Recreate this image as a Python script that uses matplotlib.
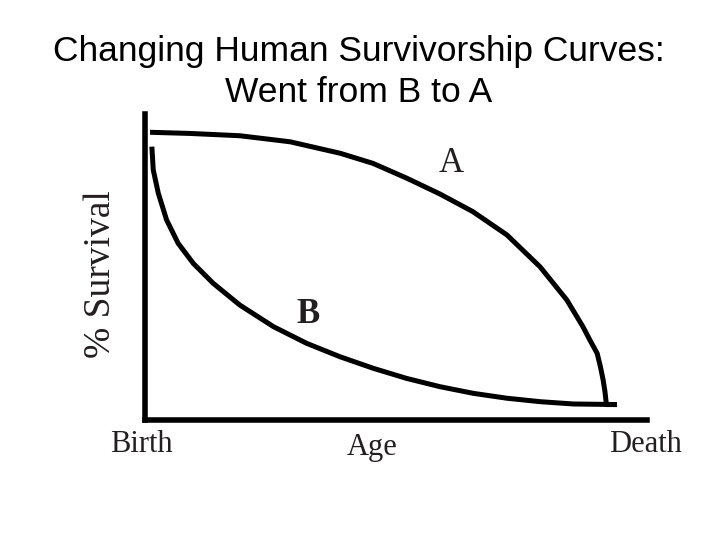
import matplotlib.pyplot as plt

# curve A: modern (type I) survivorship, age in % of lifespan, survival in %
age_a = [1.2, 9.9, 20.7, 31.6, 42.5, 49.6, 57.0, 64.2, 71.3, 78.7, 85.9, 91.7,
         95.2, 96.7, 98.3, 99.0, 99.6, 100.0, 100.3, 102.6]
surv_a = [99.9, 99.5, 98.7, 96.6, 92.6, 89.1, 83.9, 78.4, 72.3, 64.2, 53.1, 41.6,
          32.3, 27.7, 23.0, 18.4, 13.7, 9.6, 5.2, 5.2]

# curve B: earlier (type III-like) survivorship
age_b = [1.6, 1.9, 3.0, 4.8, 7.3, 10.6, 14.9, 20.7, 28.0, 35.2, 42.5, 49.7,
         56.9, 64.2, 71.4, 78.7, 85.9, 93.1, 102.6]
surv_b = [94.9, 86.8, 78.7, 69.4, 61.3, 54.3, 47.4, 39.8, 32.3, 26.5, 21.8, 17.8,
          14.3, 11.4, 9.1, 7.4, 6.2, 5.4, 5.2]

serif = ['Liberation Serif', 'DejaVu Serif']
sans = ['Liberation Sans', 'DejaVu Sans']
ink = '#231f20'

fig = plt.figure(figsize=(7.2, 5.4), dpi=100)
W, H = 720, 540
ax = fig.add_axes([144.5 / W, 1 - 419.5 / H, (647 - 144.5) / W, (419.5 - 114) / H])

ax.plot(age_a, surv_a, color='black', lw=3.6, solid_capstyle='butt', solid_joinstyle='round')
ax.plot(age_b, surv_b, color='black', lw=3.6, solid_capstyle='butt', solid_joinstyle='round')

ax.set_xlim(0, (647 - 144.5) / 460.5 * 100)
ax.set_ylim(0, (419.5 - 114) / 287.5 * 100)
ax.set_xticks([])
ax.set_yticks([])
for s in ['top', 'right']:
    ax.spines[s].set_visible(False)
for s in ['left', 'bottom']:
    ax.spines[s].set_linewidth(4.0)
    ax.spines[s].set_color('black')

ax.text(66.7, 88.9, 'A', fontsize=25, family=serif, color=ink, ha='center', va='center')
ax.text(35.6, 36.5, 'B', fontsize=25, family=serif, fontweight='bold', color=ink,
        ha='center', va='center')

fig.text(141 / W, 1 - 444 / H, 'Birth', fontsize=22, family=serif, color=ink, ha='center', va='center')
fig.text(372 / W, 1 - 448 / H, 'Age', fontsize=22, family=serif, color=ink, ha='center', va='center')
fig.text(645 / W, 1 - 444 / H, 'Death', fontsize=22, family=serif, color=ink, ha='center', va='center')
fig.text(101 / W, 1 - 274 / H, '% Survival', fontsize=27, family=serif, color=ink,
         rotation=90, ha='center', va='center')

fig.text(359 / W, 1 - 61 / H, 'Changing Human Survivorship Curves:', fontsize=25.5, family=sans,
         color='black', ha='center', va='baseline')
fig.text(359 / W, 1 - 102 / H, 'Went from B to A', fontsize=25.5, family=sans,
         color='black', ha='center', va='baseline')

fig.savefig('out.png', dpi=100)
